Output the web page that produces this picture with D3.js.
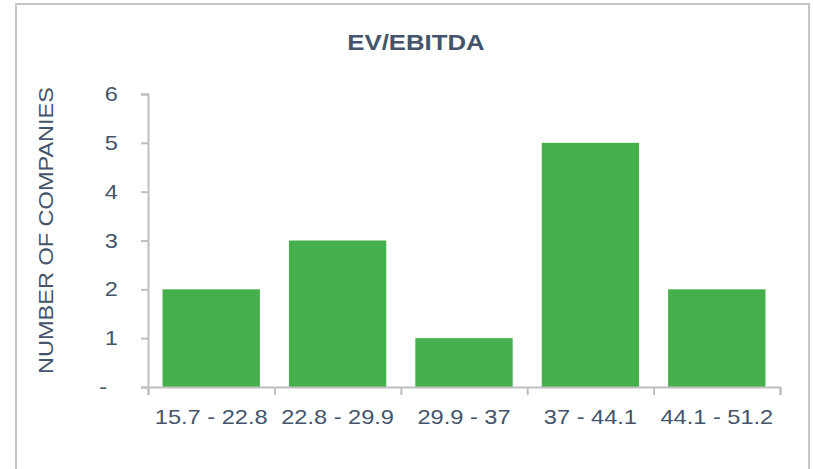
<!DOCTYPE html>
<html>
<head>
<meta charset="utf-8">
<script src="https://cdn.jsdelivr.net/npm/d3@7"></script>
<style>
  body { margin: 0; background: #ffffff; }
  svg { display: block; font-family: "Liberation Sans", Arial, sans-serif; }
</style>
</head>
<body>
<svg id="chart" width="813" height="469"></svg>
<script>
// chart data
var bins = ["15.7 - 22.8", "22.8 - 29.9", "29.9 - 37", "37 - 44.1", "44.1 - 51.2"];
var counts = [2, 3, 1, 5, 2];
var yTicks = [0, 1, 2, 3, 4, 5, 6];
var chartTitle = "EV/EBITDA";
var yTitle = "NUMBER OF COMPANIES";

var svg = d3.select("#chart");
var textColor = "#44546a", axisColor = "#bfbfbf", barColor = "#45b04b";
var stretch = 1.18;

// outer frame
svg.append("rect")
  .attr("x", 16).attr("y", 4)
  .attr("width", 793).attr("height", 480)
  .attr("fill", "none")
  .attr("stroke", "#c6c6c6")
  .attr("stroke-width", 2);

var x = d3.scaleBand()
  .domain(bins)
  .range([148, 780])
  .paddingInner(0.23)
  .paddingOuter(0.115);

var y = d3.scaleLinear()
  .domain([0, 6])
  .range([387, 94]);

// bars
svg.append("g")
  .selectAll("rect")
  .data(bins)
  .enter()
  .append("rect")
  .attr("x", function (d) { return x(d); })
  .attr("y", function (d, i) { return y(counts[i]); })
  .attr("width", x.bandwidth())
  .attr("height", function (d, i) { return y(0) - y(counts[i]); })
  .attr("fill", barColor);

// y axis: line and outward ticks
var yAxis = svg.append("g")
  .attr("transform", "translate(148,0)")
  .call(d3.axisLeft(y).tickValues(yTicks).tickSize(7).tickFormat(""));

// x axis: line and ticks at the band edges
var step = x.step();
var edges = d3.range(bins.length + 1).map(function (i) { return 148 + i * step; });
var xAxis = svg.append("g")
  .attr("transform", "translate(0,387)")
  .call(d3.axisBottom(d3.scaleLinear().domain([148, 780]).range([148, 780]))
    .tickValues(edges).tickSize(8).tickSizeOuter(8).tickFormat(""));

svg.selectAll(".domain, .tick line")
  .attr("stroke", axisColor)
  .attr("stroke-width", 2);

// y tick labels
svg.append("g")
  .selectAll("text")
  .data(yTicks)
  .enter()
  .append("text")
  .attr("transform", function (d) {
    return "translate(" + (d === 0 ? 107 : 118) + "," + (y(d) + 7) + ") scale(" + stretch + ",1)";
  })
  .attr("text-anchor", "end")
  .attr("font-size", 20)
  .attr("fill", textColor)
  .text(function (d) { return d === 0 ? "-" : d; });

// x tick labels
svg.append("g")
  .selectAll("text")
  .data(bins)
  .enter()
  .append("text")
  .attr("transform", function (d) {
    return "translate(" + (x(d) + x.bandwidth() / 2) + ",424) scale(" + stretch + ",1)";
  })
  .attr("text-anchor", "middle")
  .attr("font-size", 20)
  .attr("fill", textColor)
  .text(function (d) { return d; });

// title
svg.append("text")
  .attr("transform", "translate(416,50) scale(1.17,1)")
  .attr("text-anchor", "middle")
  .attr("font-size", 22)
  .attr("font-weight", "bold")
  .attr("fill", textColor)
  .text(chartTitle);

// y axis title
svg.append("text")
  .attr("transform", "translate(53,230.5) rotate(-90) scale(1.12,1)")
  .attr("text-anchor", "middle")
  .attr("font-size", 21)
  .attr("fill", textColor)
  .text(yTitle);
</script>
</body>
</html>
